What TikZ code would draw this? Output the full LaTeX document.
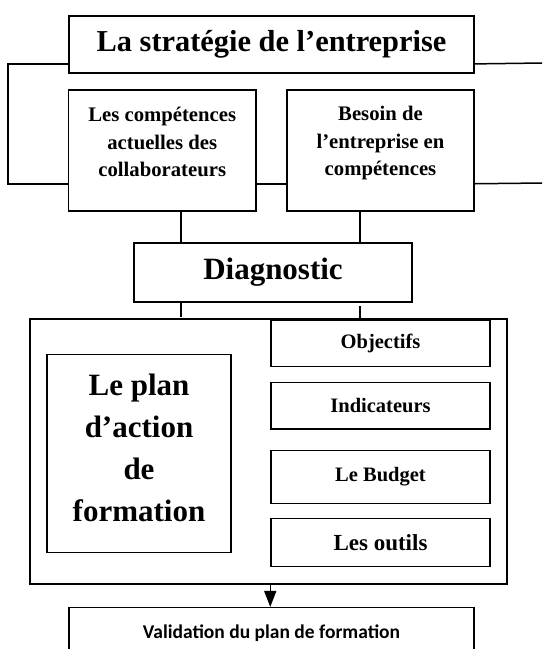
\documentclass[tikz,border=0pt]{standalone}
\usepackage{fontspec}
\setmainfont{Liberation Serif}
\newfontfamily\calib{Carlito}
\usetikzlibrary{arrows.meta}
\begin{document}
\begin{tikzpicture}[x=1pt,y=-1pt,
  box/.style={draw, line width=1.5pt, inner sep=0pt},
  thick box/.style={draw, line width=1.8pt, inner sep=0pt},
  conn/.style={line width=1.5pt},
  lbl/.style={inner sep=0pt, align=center, font=\bfseries}]
\useasboundingbox (0,0) rectangle (542,649);
\clip (0,0) rectangle (542,649);
% top strategy box
\node[thick box, minimum width=405pt, minimum height=57pt, font=\bfseries\fontsize{30.4}{36}\selectfont] (S) at (271.5,44.5) {La stratégie de l’entreprise};
% competence boxes
\node[box, minimum width=187.5pt, minimum height=121pt] (L) at (162.25,150.5) {};
\node[lbl, font=\bfseries\fontsize{20.7}{27.5}\selectfont] (LT) at (162.25,142) {Les compétences\\actuelles des\\collaborateurs};
\node[box, minimum width=187pt, minimum height=121pt] (R) at (380.5,150.5) {};
\node[lbl, font=\bfseries\fontsize{20.7}{27.5}\selectfont] (RT) at (380.5,143.5) {Besoin de\\l’entreprise en\\compétences};
% diagnostic
\node[box, minimum width=278pt, minimum height=59pt, font=\bfseries\fontsize{31}{37}\selectfont] (D) at (273,272.5) {Diagnostic};
% big box
\node[box, minimum width=477pt, minimum height=265pt] (B) at (268.5,451.5) {};
\node[box, minimum width=184pt, minimum height=198pt] (P) at (139,453.3) {};
\node[lbl, font=\bfseries\fontsize{31}{42.2}\selectfont] (PT) at (139,448) {Le plan\\d’action\\de\\formation};
\node[box, minimum width=219pt, minimum height=46pt, font=\bfseries\fontsize{20.5}{24}\selectfont] (O) at (380.5,343.7) {Objectifs};
\node[box, minimum width=219pt, minimum height=46.3pt, font=\bfseries\fontsize{20.5}{24}\selectfont] (I) at (380.5,405.85) {Indicateurs};
\node[box, minimum width=219pt, minimum height=52.6pt, font=\bfseries\fontsize{20.5}{24}\selectfont] (G) at (380.5,477) {Le Budget};
\node[box, minimum width=219pt, minimum height=48pt, font=\bfseries\fontsize{23}{27}\selectfont] (T) at (380.5,542.7) {Les outils};
% validation
\node[box, minimum width=405pt, minimum height=50pt, font=\calib\bfseries\fontsize{19.5}{23}\selectfont] (V) at (271.5,632.7) {Validation du plan de formation};
% connectors
\coordinate (e1) at (543,63);
\coordinate (e2) at (543,183);
\draw[conn] ([yshift=10pt]S.south west) -- ++(-60,0) |- ([yshift=28pt]L.south west);
\draw[conn] ([yshift=28pt]L.south east) -- ([yshift=28pt]R.south west);
\draw[conn] ([yshift=10pt]S.south east) -- (e1);
\draw[conn] ([yshift=28pt]R.south east) -- (e2);
\coordinate (a1) at ([xshift=18.75pt]L.south);
\coordinate (b1) at ([xshift=-20.5pt]R.south);
\draw[conn] (a1) -- (a1 |- D.north);
\draw[conn] (b1) -- (b1 |- D.north);
\draw[conn] (a1 |- D.south) -- ++(0,14);
\draw[conn] (b1 |- B.north) -- ++(0,-12.5);
\draw[conn, -{Triangle[width=12pt,length=16pt]}] (O.west |- B.south) -- (O.west |- V.north);
\end{tikzpicture}
\end{document}
